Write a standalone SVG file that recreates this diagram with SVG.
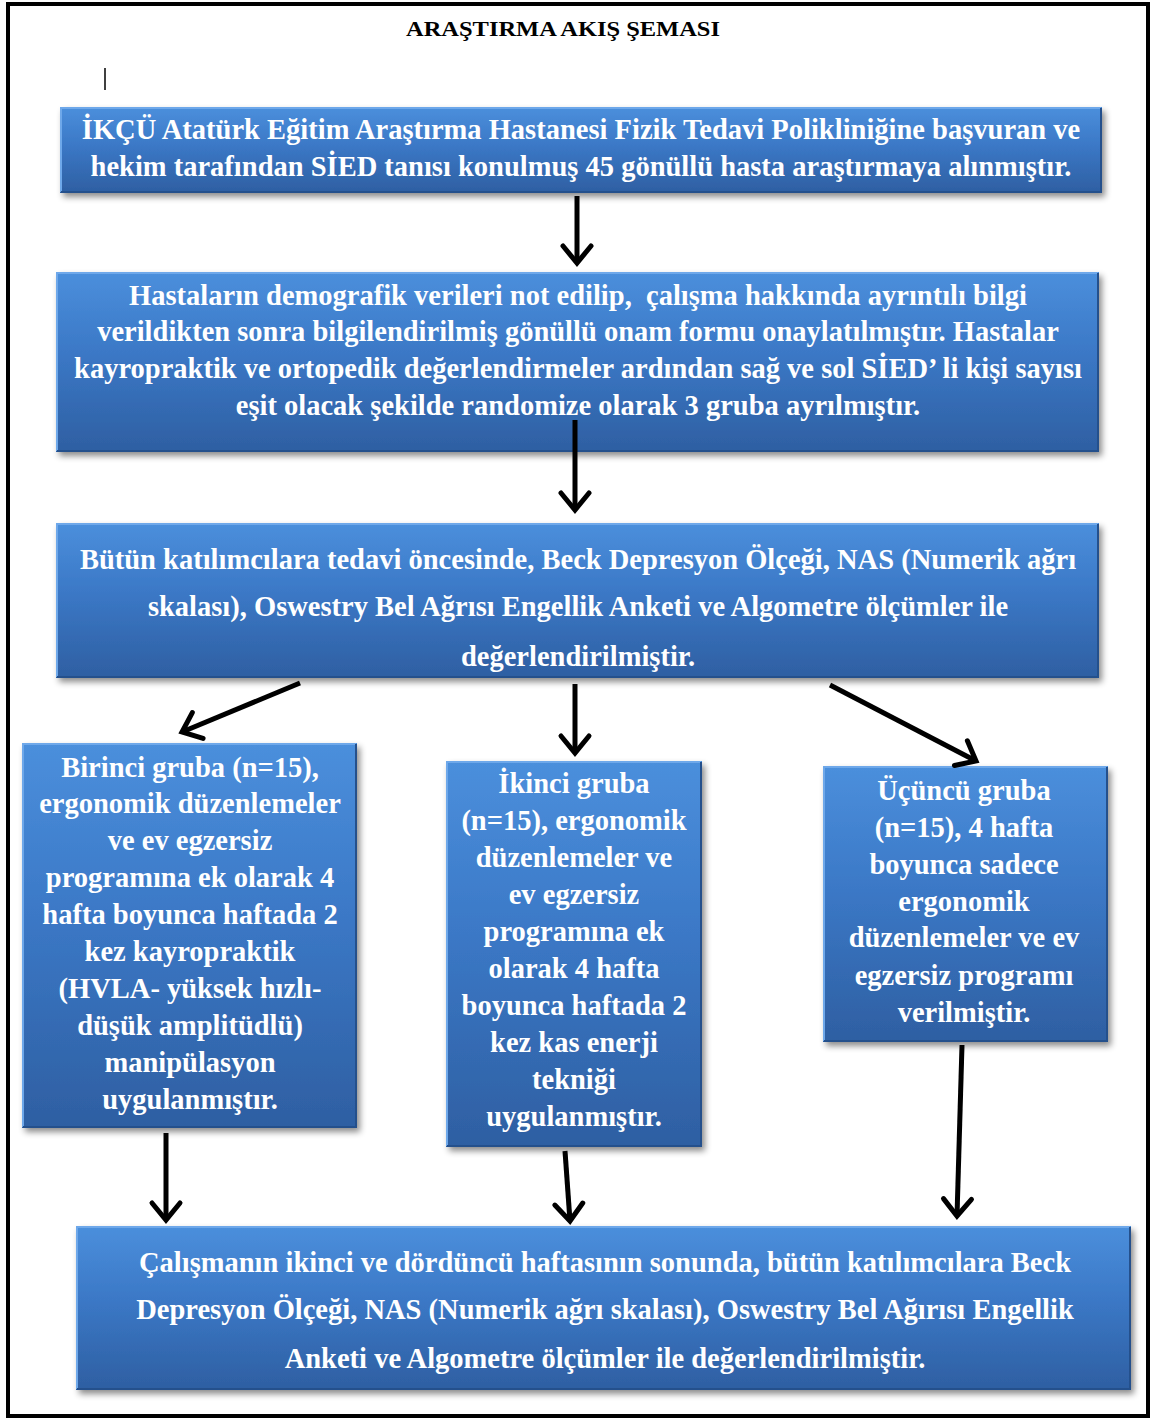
<svg xmlns="http://www.w3.org/2000/svg" width="1153" height="1420" viewBox="0 0 1153 1420">
<defs>
<linearGradient id="bg" x1="0" y1="0" x2="0" y2="1">
<stop offset="0" stop-color="#4b8fdc"/>
<stop offset="0.45" stop-color="#3b78c6"/>
<stop offset="1" stop-color="#2e5fa2"/>
</linearGradient>
<filter id="sh" x="-10%" y="-10%" width="120%" height="130%">
<feDropShadow dx="3" dy="4" stdDeviation="3" flood-color="#000" flood-opacity="0.45"/>
</filter>
<marker id="ah" markerUnits="userSpaceOnUse" markerWidth="40" markerHeight="40" viewBox="-20 -20 40 40" refX="0" refY="0" orient="auto" overflow="visible">
<path d="M-17,-14 L0,0 L-17,14" fill="none" stroke="#000" stroke-width="5" stroke-linecap="round" stroke-linejoin="miter"/>
</marker>
</defs>
<style>
.box{fill:url(#bg);filter:url(#sh);}
.hl{fill:none;stroke:#6ea8ea;stroke-width:2;}
.dk{fill:none;stroke:#24508c;stroke-width:2;}
.t{font-family:"Liberation Serif","Times New Roman",serif;font-weight:bold;font-size:28.5px;fill:#ffffff;text-anchor:middle;}
.ttl{font-family:"Liberation Serif","Times New Roman",serif;font-weight:bold;font-size:22px;fill:#000;text-anchor:middle;}
.c{fill:none;stroke:#000;stroke-width:5;marker-end:url(#ah);}
</style>
<rect x="0" y="0" width="1153" height="1420" fill="#fff"/>
<rect x="8" y="4" width="1140" height="1412" fill="none" stroke="#000" stroke-width="4"/>
<text class="ttl" x="563" y="36" textLength="314" lengthAdjust="spacingAndGlyphs">ARAŞTIRMA AKIŞ ŞEMASI</text>
<line x1="105" y1="68" x2="105" y2="90" stroke="#000" stroke-width="1.5"/>

<g id="n1">
<rect class="box" x="60" y="107" width="1042" height="86"/>
<path class="hl" d="M61,192 V108 H1101"/>
<path class="dk" d="M1101,108 V192 H61"/>
<text class="t" x="581" y="139">İKÇÜ Atatürk Eğitim Araştırma Hastanesi Fizik Tedavi Polikliniğine başvuran ve</text>
<text class="t" x="581" y="176">hekim tarafından SİED tanısı konulmuş 45 gönüllü hasta araştırmaya alınmıştır.</text>
</g>

<g id="n2">
<rect class="box" x="56" y="272" width="1043" height="180"/>
<path class="hl" d="M57,451 V273 H1098"/>
<path class="dk" d="M1098,273 V451 H57"/>
<text class="t" x="578" y="305">Hastaların demografik verileri not edilip, &#160;çalışma hakkında ayrıntılı bilgi</text>
<text class="t" x="578" y="341">verildikten sonra bilgilendirilmiş gönüllü onam formu onaylatılmıştır. Hastalar</text>
<text class="t" x="578" y="378">kayropraktik ve ortopedik değerlendirmeler ardından sağ ve sol SİED’ li kişi sayısı</text>
<text class="t" x="578" y="415">eşit olacak şekilde randomize olarak 3 gruba ayrılmıştır.</text>
</g>

<g id="n3">
<rect class="box" x="56" y="523" width="1043" height="155"/>
<path class="hl" d="M57,677 V524 H1098"/>
<path class="dk" d="M1098,524 V677 H57"/>
<text class="t" x="578" y="569">Bütün katılımcılara tedavi öncesinde, Beck Depresyon Ölçeği, NAS (Numerik ağrı</text>
<text class="t" x="578" y="616">skalası), Oswestry Bel Ağrısı Engellik Anketi ve Algometre ölçümler ile</text>
<text class="t" x="578" y="666">değerlendirilmiştir.</text>
</g>

<g id="n4">
<rect class="box" x="22" y="743" width="335" height="385"/>
<path class="hl" d="M23,1127 V744 H356"/>
<path class="dk" d="M356,744 V1127 H23"/>
<text class="t" x="190" y="777">Birinci gruba (n=15),</text>
<text class="t" x="190" y="813">ergonomik düzenlemeler</text>
<text class="t" x="190" y="850">ve ev egzersiz</text>
<text class="t" x="190" y="887">programına ek olarak 4</text>
<text class="t" x="190" y="924">hafta boyunca haftada 2</text>
<text class="t" x="190" y="961">kez kayropraktik</text>
<text class="t" x="190" y="998">(HVLA- yüksek hızlı-</text>
<text class="t" x="190" y="1035">düşük amplitüdlü)</text>
<text class="t" x="190" y="1072">manipülasyon</text>
<text class="t" x="190" y="1109">uygulanmıştır.</text>
</g>

<g id="n5">
<rect class="box" x="446" y="761" width="256" height="386"/>
<path class="hl" d="M447,1146 V762 H701"/>
<path class="dk" d="M701,762 V1146 H447"/>
<text class="t" x="574" y="793">İkinci gruba</text>
<text class="t" x="574" y="830">(n=15), ergonomik</text>
<text class="t" x="574" y="867">düzenlemeler ve</text>
<text class="t" x="574" y="904">ev egzersiz</text>
<text class="t" x="574" y="941">programına ek</text>
<text class="t" x="574" y="978">olarak 4 hafta</text>
<text class="t" x="574" y="1015">boyunca haftada 2</text>
<text class="t" x="574" y="1052">kez kas enerji</text>
<text class="t" x="574" y="1089">tekniği</text>
<text class="t" x="574" y="1126">uygulanmıştır.</text>
</g>

<g id="n6">
<rect class="box" x="823" y="766" width="285" height="276"/>
<path class="hl" d="M824,1041 V767 H1107"/>
<path class="dk" d="M1107,767 V1041 H824"/>
<text class="t" x="964" y="800">Üçüncü gruba</text>
<text class="t" x="964" y="837">(n=15), 4 hafta</text>
<text class="t" x="964" y="874">boyunca sadece</text>
<text class="t" x="964" y="911">ergonomik</text>
<text class="t" x="964" y="947">düzenlemeler ve ev</text>
<text class="t" x="964" y="985">egzersiz programı</text>
<text class="t" x="964" y="1022">verilmiştir.</text>
</g>

<g id="n7">
<rect class="box" x="76" y="1226" width="1055" height="164"/>
<path class="hl" d="M77,1389 V1227 H1130"/>
<path class="dk" d="M1130,1227 V1389 H77"/>
<text class="t" x="605" y="1272">Çalışmanın ikinci ve dördüncü haftasının sonunda, bütün katılımcılara Beck</text>
<text class="t" x="605" y="1319">Depresyon Ölçeği, NAS (Numerik ağrı skalası), Oswestry Bel Ağırısı Engellik</text>
<text class="t" x="605" y="1368">Anketi ve Algometre ölçümler ile değerlendirilmiştir.</text>
</g>

<g id="connectors">
<line class="c" x1="577" y1="196" x2="577" y2="263"/>
<line class="c" x1="575" y1="420" x2="575" y2="510"/>
<line class="c" x1="300" y1="683" x2="182" y2="732"/>
<line class="c" x1="575" y1="684" x2="575" y2="753"/>
<line class="c" x1="830" y1="685" x2="976" y2="761"/>
<line class="c" x1="166" y1="1133" x2="166" y2="1220"/>
<line class="c" x1="565" y1="1151" x2="570" y2="1221"/>
<line class="c" x1="962" y1="1045" x2="957" y2="1216"/>
</g>
</svg>
